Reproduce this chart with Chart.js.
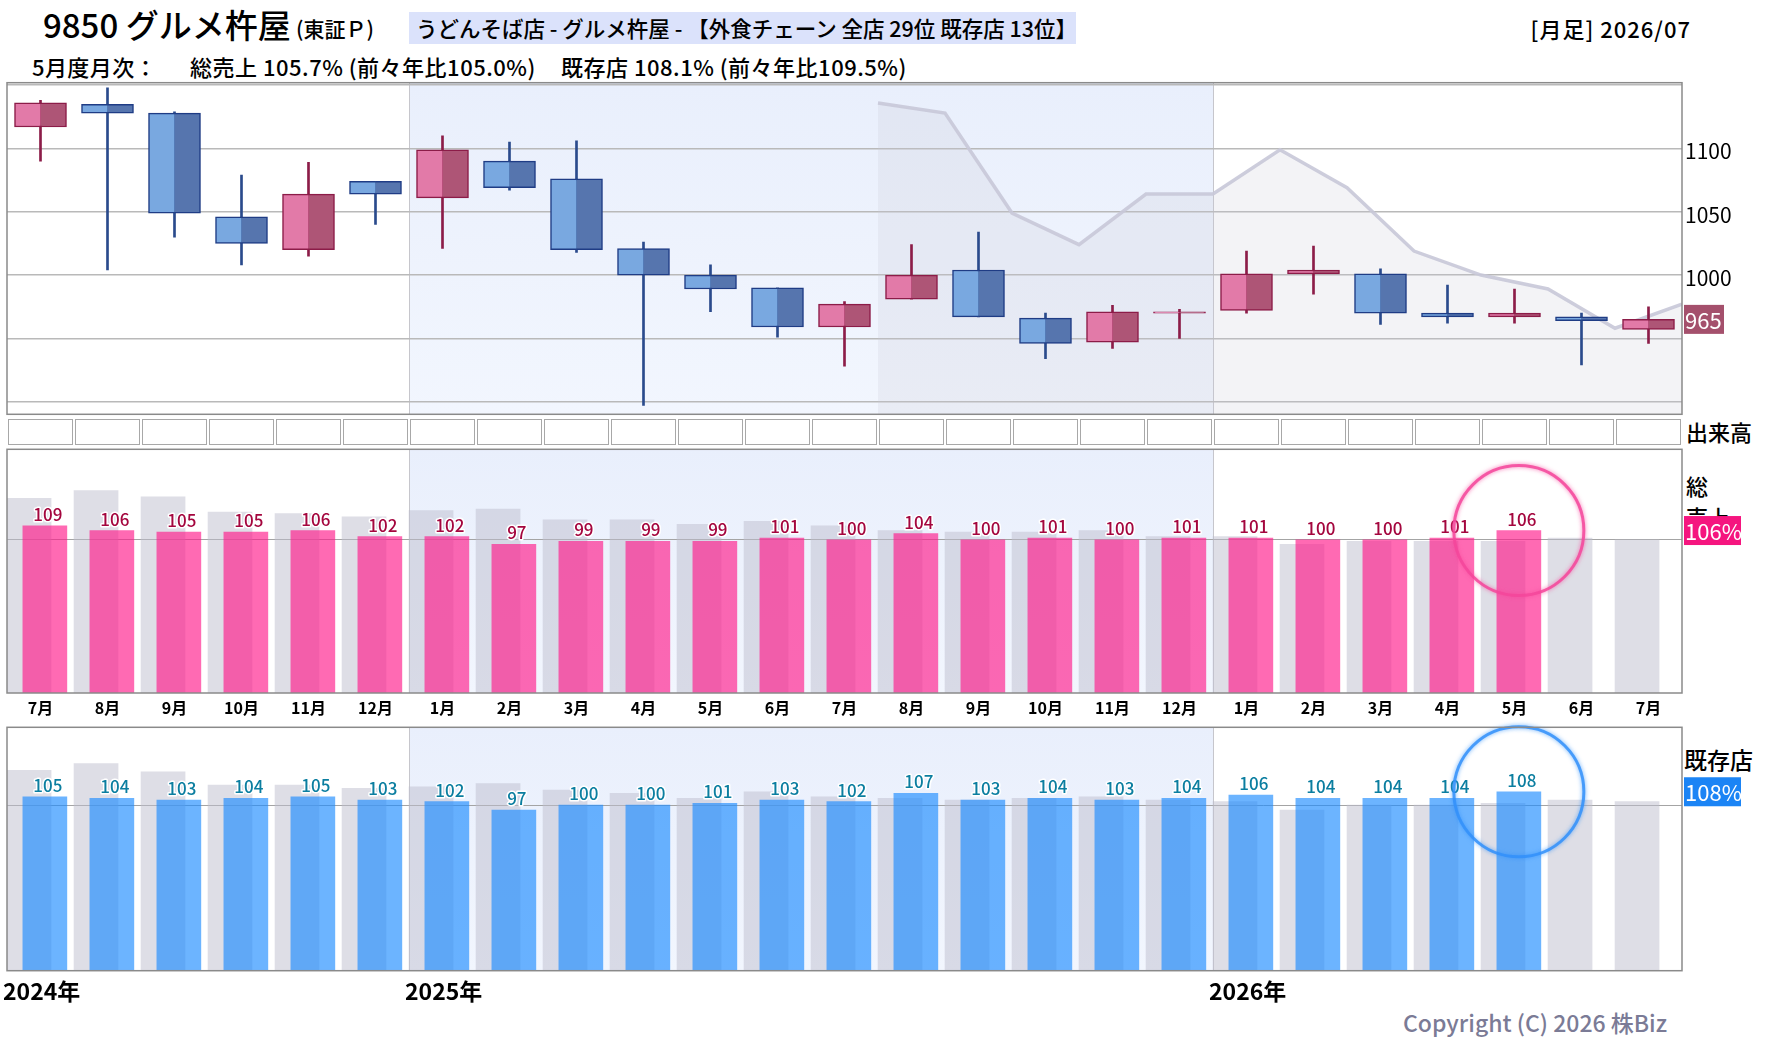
<!DOCTYPE html>
<html lang="ja">
<head>
<meta charset="utf-8">
<title>9850 グルメ杵屋 月足</title>
<script src="https://cdn.jsdelivr.net/npm/chart.js@4.4.1/dist/chart.umd.min.js"></script>
<style>
  body { margin: 0; width: 1780px; height: 1054px; background: #fff; position: relative; overflow: hidden;
         font-family: "Noto Sans CJK JP", "Noto Sans", sans-serif; color: #000; font-weight: 500; }
  .t { position: absolute; white-space: nowrap; line-height: 1; }
  canvas { position: absolute; left: 0; }
  #strip { position: absolute; left: 7px; top: 419px; width: 1675px; height: 26px; display: flex; }
  #strip div { flex: 1; margin: 0 1px; border: 1px solid #a8a8a8; background: #fff; }
  #tag { position: absolute; left: 409px; top: 12px; height: 32px; width: 667px; background: #dbe2fb;
         font-size: 21.5px; line-height: 32px; padding-left: 7px; box-sizing: border-box; white-space: nowrap; }
</style>
</head>
<body>
<div class="t" style="left:43px;top:8px;font-size:33px;">9850 グルメ杵屋</div>
<div class="t" style="left:296px;top:18px;font-size:21px;">(東証Ｐ)</div>
<div id="tag">うどんそば店 - グルメ杵屋 - 【外食チェーン 全店 29位 既存店 13位】</div>
<div class="t" style="right:89px;top:17px;font-size:22px;letter-spacing:1px;">[月足] 2026/07</div>
<div class="t" style="left:32px;top:55px;font-size:22px;letter-spacing:0.4px;">5月度月次：</div>
<div class="t" style="left:190px;top:55px;font-size:22px;letter-spacing:0.5px;">総売上 105.7% (前々年比105.0%)</div>
<div class="t" style="left:561px;top:55px;font-size:22px;letter-spacing:0.5px;">既存店 108.1% (前々年比109.5%)</div>

<div id="strip"></div>
<div class="t" style="left:1686px;top:420px;font-size:22px;">出来高</div>
<div class="t" style="left:1686px;top:470px;font-size:22px;line-height:31px;">総<br>売上</div>
<div class="t" style="left:1684px;top:748px;font-size:23px;">既存店</div>
<div class="t" style="left:1403px;top:1011px;font-size:23px;color:#7b7b96;">Copyright (C) 2026 株Biz</div>

<canvas id="priceChart" width="1780" height="350" style="top:75px"></canvas>
<canvas id="salesChart" width="1780" height="290" style="top:440px"></canvas>
<canvas id="storesChart" width="1780" height="290" style="top:720px"></canvas>

<script>
const months = ["7月", "8月", "9月", "10月", "11月", "12月", "1月", "2月", "3月", "4月", "5月", "6月",
  "7月", "8月", "9月", "10月", "11月", "12月", "1月", "2月", "3月", "4月", "5月", "6月", "7月"];
const years = ["2024年", "2025年", "2026年"];
const yearStart = [0, 6, 18];

const priceOpen  = [1117, 1135, 1128, 1046, 1020, 1074, 1061, 1090, 1076, 1021, 1000, 990, 959,
  981, 1004, 966, 947, 970, 972, 1001, 1001, 970, 967, 967, 957];
const priceHigh  = [1138, 1148, 1129, 1079, 1089, 1074, 1110, 1105, 1106, 1026, 1008, 990, 979,
  1024, 1034, 970, 976, 973, 1019, 1023, 1005, 992, 989, 970, 975];
const priceLow   = [1090, 1004, 1030, 1008, 1015, 1040, 1021, 1067, 1018, 897, 971, 951, 928,
  981, 967, 934, 942, 950, 970, 985, 961, 962, 962, 929, 946];
const priceClose = [1136, 1128, 1049, 1025, 1064, 1064, 1099, 1069, 1020, 1000, 989, 959, 977,
  1000, 967, 946, 971, 971, 1001, 1004, 970, 967, 970, 964, 965];
const avgLine = [1136, 1128, 1049, 1024, 1064, 1064, 1099, 1069, 1019, 1000, 989, 958, 977];
const avgLineFrom = 13;
const priceTicks = [900, 950, 1000, 1050, 1100, 1150];
const priceTickLabels = [1000, 1050, 1100];

const sales = [109, 106, 105, 105, 106, 102, 102, 97, 99, 99, 99, 101, 100, 104, 100, 101, 100, 101,
  101, 100, 100, 101, 106, null, null];
const salesPrev = [127, 132, 128, 118, 117, 115, 119, 120, 113, 113, 110, 112, 109, 106, 105, 105, 106, 102,
  102, 97, 99, 99, 99, 101, 100];
const stores = [105, 104, 103, 104, 105, 103, 102, 97, 100, 100, 101, 103, 102, 107, 103, 104, 103, 104,
  106, 104, 104, 104, 108, null, null];
const storesPrev = [121, 125, 120, 112, 112, 110, 111, 113, 109, 107, 104, 108, 105, 104, 103, 104, 105, 103,
  102, 97, 100, 100, 101, 103, 102];

const FONT = '"Noto Sans CJK JP", "Noto Sans", sans-serif';
Chart.defaults.font.family = FONT;
Chart.defaults.animation = false;
Chart.defaults.plugins.legend.display = false;
Chart.defaults.plugins.tooltip.enabled = false;

// strip of empty volume cells
const strip = document.getElementById('strip');
months.forEach(() => strip.appendChild(document.createElement('div')));

function catEdge(chart, i) {
  const x = chart.scales.x;
  const w = x.getPixelForValue(1) - x.getPixelForValue(0);
  return x.getPixelForValue(i) - w / 2;
}

// right axis: fixed width, no extra vertical padding for edge labels
function fixRightAxis(s) {
  s.width = 98;
  s.paddingTop = 0;
  s.paddingBottom = 0;
}

// 2025 shading, year separators and frame
const panelPlugin = {
  id: 'panel',
  beforeDraw(chart) {
    const { ctx, chartArea: a } = chart;
    const x0 = catEdge(chart, yearStart[1]);
    const x1 = catEdge(chart, yearStart[2]);
    ctx.save();
    const g = ctx.createLinearGradient(0, a.top, 0, a.bottom);
    g.addColorStop(0, '#e9effc');
    g.addColorStop(1, '#f2f6fe');
    ctx.fillStyle = g;
    ctx.fillRect(x0, a.top, x1 - x0, a.bottom - a.top);
    ctx.strokeStyle = '#c6c6cc';
    ctx.lineWidth = 1;
    [x0, x1].forEach(x => {
      ctx.beginPath();
      ctx.moveTo(Math.round(x) + 0.5, a.top);
      ctx.lineTo(Math.round(x) + 0.5, a.bottom);
      ctx.stroke();
    });
    ctx.restore();
  },
  afterDraw(chart) {
    const { ctx, chartArea: a } = chart;
    ctx.save();
    ctx.strokeStyle = '#8a8a8a';
    ctx.lineWidth = 1.5;
    ctx.strokeRect(a.left, a.top, a.right - a.left, a.bottom - a.top);
    ctx.restore();
  }
};

function badge(ctx, x, y, w, text, color) {
  ctx.save();
  ctx.fillStyle = color;
  ctx.fillRect(x, y - 14.5, w, 29);
  ctx.fillStyle = '#fff';
  ctx.font = '22px ' + FONT;
  ctx.textAlign = 'left';
  ctx.textBaseline = 'middle';
  ctx.fillText(text, x + 1, y + 1);
  ctx.restore();
}

// ---------- candles ----------
const isUp = priceClose.map((c, i) => c >= priceOpen[i]);
const bodyBorder = isUp.map(u => u ? '#8c1c48' : '#1f3c85');
const bodies = priceOpen.map((o, i) => [o, priceClose[i]]);

new Chart(document.getElementById('priceChart'), {
  type: 'bar',
  data: {
    labels: months,
    datasets: [
      {
        type: 'line',
        xAxisID: 'xl',
        data: avgLine.map((v, k) => ({ x: avgLineFrom - 0.5 + k, y: v })),
        borderColor: 'rgba(200,200,216,0.9)',
        borderWidth: 3.5,
        backgroundColor: 'rgba(200,200,215,0.22)',
        fill: 'start',
        pointRadius: 0,
        tension: 0,
        order: 3
      },
      {
        xAxisID: 'xw',
        data: priceLow.map((l, i) => [l, priceHigh[i]]),
        backgroundColor: isUp.map(u => u ? '#8c1c48' : '#2a4a8c'),
        barThickness: 2,
        grouped: false,
        order: 2
      },
      {
        xAxisID: 'x',
        data: bodies,
        backgroundColor: isUp.map(u => u ? '#e27aa8' : '#79a8e0'),
        borderColor: bodyBorder,
        borderWidth: { top: 1.5, bottom: 1.5, left: 1.5, right: 0 },
        borderSkipped: false,
        barThickness: 26,
        order: 1
      },
      {
        xAxisID: 'x',
        data: bodies,
        backgroundColor: isUp.map(u => u ? '#ae5576' : '#5675ae'),
        borderColor: bodyBorder,
        borderWidth: { top: 1.5, bottom: 1.5, left: 0, right: 1.5 },
        borderSkipped: false,
        barThickness: 26,
        order: 1
      }
    ]
  },
  options: {
    responsive: false,
    layout: { autoPadding: false, padding: { left: 7, top: 7.7, right: 0, bottom: 10.7 } },
    scales: {
      x: { type: 'category', offset: true, display: false },
      xw: { type: 'category', offset: true, display: false },
      xl: { type: 'linear', min: -0.5, max: 24.5, offset: false, display: false },
      y: {
        position: 'right', min: 890, max: 1152,
        afterBuildTicks: s => { s.ticks = priceTicks.map(v => ({ value: v })); },
        afterFit: fixRightAxis,
        grid: { color: '#b9b9b9', lineWidth: 1.5, drawTicks: false },
        border: { display: false },
        ticks: {
          padding: 3, labelOffset: 3, color: '#000', font: { size: 21 },
          callback: v => priceTickLabels.includes(v) ? String(v) : ''
        }
      }
    }
  },
  plugins: [panelPlugin, {
    id: 'lastPrice',
    afterDraw(chart) {
      const last = priceClose[priceClose.length - 1];
      badge(chart.ctx, chart.chartArea.right + 2, chart.scales.y.getPixelForValue(last), 40, String(last), '#a4506c');
    }
  }]
});

// ---------- monthly sales panels ----------
function monthlyChart(id, values, prev, yMax, st) {
  return new Chart(document.getElementById(id), {
    type: 'bar',
    data: {
      labels: months,
      datasets: [
        {
          xAxisID: 'xb',
          data: prev.map((v, i) => ({ x: i - 0.171, y: v })),
          backgroundColor: 'rgba(189,189,205,0.5)',
          barThickness: 44,
          grouped: false,
          order: 2
        },
        {
          xAxisID: 'xb',
          data: values.map((v, i) => ({ x: i + 0.065, y: v })),
          backgroundColor: st.bar,
          barThickness: 44,
          grouped: false,
          order: 1
        }
      ]
    },
    options: {
      responsive: false,
      layout: { autoPadding: false, padding: st.padding },
      scales: {
        x: {
          type: 'category', offset: true, display: st.showMonths,
          grid: { display: false }, border: { display: false },
          afterFit: s => { s.height = st.showMonths ? 37 : 0; },
          ticks: { color: '#000', font: { size: 16, weight: 'bold' }, padding: -3, maxRotation: 0, autoSkip: false }
        },
        xb: { type: 'linear', min: -0.5, max: 24.5, offset: false, display: false },
        y: {
          position: 'right', min: 0, max: yMax,
          afterBuildTicks: s => { s.ticks = [{ value: 100 }]; },
          afterFit: fixRightAxis,
          grid: { color: '#a4a4a4', lineWidth: 1, drawTicks: false },
          border: { display: false },
          ticks: { display: false }
        }
      }
    },
    plugins: [panelPlugin, {
      id: 'labels',
      afterDatasetsDraw(chart) {
        const { ctx } = chart;
        const meta = chart.getDatasetMeta(1);
        ctx.save();
        ctx.font = '500 17px ' + FONT;
        ctx.textAlign = 'center';
        ctx.textBaseline = 'alphabetic';
        ctx.lineJoin = 'round';
        let lastIdx = 0;
        meta.data.forEach((el, i) => {
          if (values[i] == null) return;
          lastIdx = i;
          ctx.strokeStyle = '#fff';
          ctx.lineWidth = 3;
          ctx.strokeText(String(values[i]), el.x + 3, el.y - 5);
          ctx.fillStyle = st.label;
          ctx.fillText(String(values[i]), el.x + 3, el.y - 5);
        });
        // highlight circle on the latest month
        const el = meta.data[lastIdx];
        ctx.beginPath();
        ctx.arc(el.x, el.y, 65, 0, Math.PI * 2);
        ctx.strokeStyle = st.ring;
        ctx.lineWidth = 3;
        ctx.shadowColor = st.ring;
        ctx.shadowBlur = 4;
        ctx.stroke();
        ctx.restore();
        const v = values[lastIdx];
        badge(ctx, chart.chartArea.right + 2, chart.scales.y.getPixelForValue(v), 57, v + '%', st.badge);
      },
      afterDraw(chart) {
        if (!st.years) return;
        const { ctx, chartArea: a } = chart;
        ctx.save();
        ctx.font = 'bold 23px ' + FONT;
        ctx.fillStyle = '#000';
        ctx.textAlign = 'left';
        ctx.textBaseline = 'middle';
        years.forEach((y, k) => ctx.fillText(y, catEdge(chart, yearStart[k]) - 4, a.bottom + 21));
        ctx.restore();
      }
    }]
  });
}

monthlyChart('salesChart', sales, salesPrev, 159, {
  bar: 'rgba(255,26,138,0.65)', label: '#a4063e', ring: 'rgba(245,70,155,0.85)', badge: '#f5157f',
  showMonths: true, years: false, padding: { left: 7, top: 9.3, right: 0, bottom: 0 }
});
monthlyChart('storesChart', stores, storesPrev, 146.9, {
  bar: 'rgba(29,140,255,0.65)', label: '#0b7ea0', ring: 'rgba(50,145,250,0.85)', badge: '#1b84f5',
  showMonths: false, years: true, padding: { left: 7, top: 7.3, right: 0, bottom: 39.3 }
});
</script>
</body>
</html>
